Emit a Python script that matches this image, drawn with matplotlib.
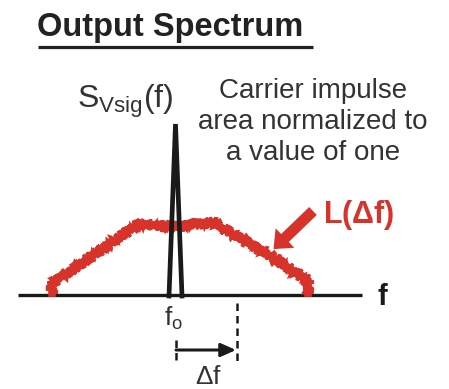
import matplotlib.pyplot as plt
from matplotlib.patches import FancyArrow

plt.rcParams['font.family'] = ['Liberation Sans', 'DejaVu Sans']
plt.rcParams['mathtext.fontset'] = 'custom'
plt.rcParams['mathtext.rm'] = 'Liberation Sans'
plt.rcParams['mathtext.it'] = 'Liberation Sans'
plt.rcParams['mathtext.bf'] = 'Liberation Sans:bold'

# diagram shape, in picture units (x right, y down)
axis_x = [18, 362]
axis_y = 295

# carrier impulse (thin triangle)
spike_x = [169, 175.5, 182]
spike_y = [296, 124, 296]

# phase-noise skirt L(df)
noise_x = [52, 52, 95, 140, 160, 175, 195, 212, 260, 308, 308]
noise_y = [293, 283, 254, 223, 226, 227, 224, 222, 250, 280, 293]

# explanatory text lines
note_lines = ["Carrier impulse", "area normalized to", "a value of one"]

red = '#d8332a'
ink = '#1a1a1a'
grey = '#333333'

fig = plt.figure(figsize=(4.49, 3.89), dpi=100)
ax = fig.add_axes([0, 0, 1, 1])
ax.set_xlim(0, 449)
ax.set_ylim(389, 0)
ax.axis('off')

# title with underline
ax.text(37, 36, "Output Spectrum", fontsize=23.5, fontweight='bold',
        color='#222222', va='baseline')
ax.plot([38, 313], [46.5, 46.5], color='#222222', lw=2.3, solid_capstyle='butt')

# frequency axis
ax.plot(axis_x, [axis_y, axis_y], color=ink, lw=2.4, solid_capstyle='butt')
ax.text(377, 305, "f", fontsize=21, fontweight='bold', color=ink, va='baseline')

# noise skirt: solid band plus a jagged overlay for the noisy edge
ax.plot(noise_x, noise_y, color=red, lw=5.5, solid_joinstyle='round')
for sc, ln in [(6.0, 1.8), (5.0, 2.6)]:
    fuzz, = ax.plot(noise_x, noise_y, color=red, lw=2.2, solid_joinstyle='miter')
    fuzz.set_sketch_params(scale=sc, length=ln, randomness=2.5)

# carrier spike
ax.plot(spike_x, spike_y, color=ink, lw=3.4, solid_joinstyle='miter')

# labels
ax.text(77, 108, r"$\mathregular{S_{Vsig}(f)}$", fontsize=23, color=grey,
        va='baseline')
for i, line in enumerate(note_lines):
    ax.text(313, 98 + i * 31, line, fontsize=20, color=grey,
            ha='center', va='baseline')

ax.text(323, 223, r"L($\mathbf{\Delta}$f)", fontsize=22, fontweight='bold',
        color=red, va='baseline')
ax.add_patch(FancyArrow(313, 211, -28, 27, width=11, head_width=27,
                        head_length=16, color=red, lw=0))

# f0 and delta-f marker
ax.text(164, 326, r"$\mathregular{f_o}$", fontsize=19, color=grey,
        va='baseline')
ax.plot([237, 237], [303, 362], color=ink, lw=1.8, ls=(0, (3, 2)))
ax.plot([176, 176], [340, 360], color=ink, lw=1.8, ls=(0, (3, 2)))
ax.annotate("", xy=(236, 350), xytext=(176, 350),
            arrowprops=dict(arrowstyle='-|>,head_length=0.9,head_width=0.4',
                            color=ink, lw=2.2, shrinkA=0, shrinkB=0))
ax.text(208, 384, r"$\Delta$f", fontsize=19, color=grey, ha='center',
        va='baseline')

fig.savefig("out.png", dpi=100)
